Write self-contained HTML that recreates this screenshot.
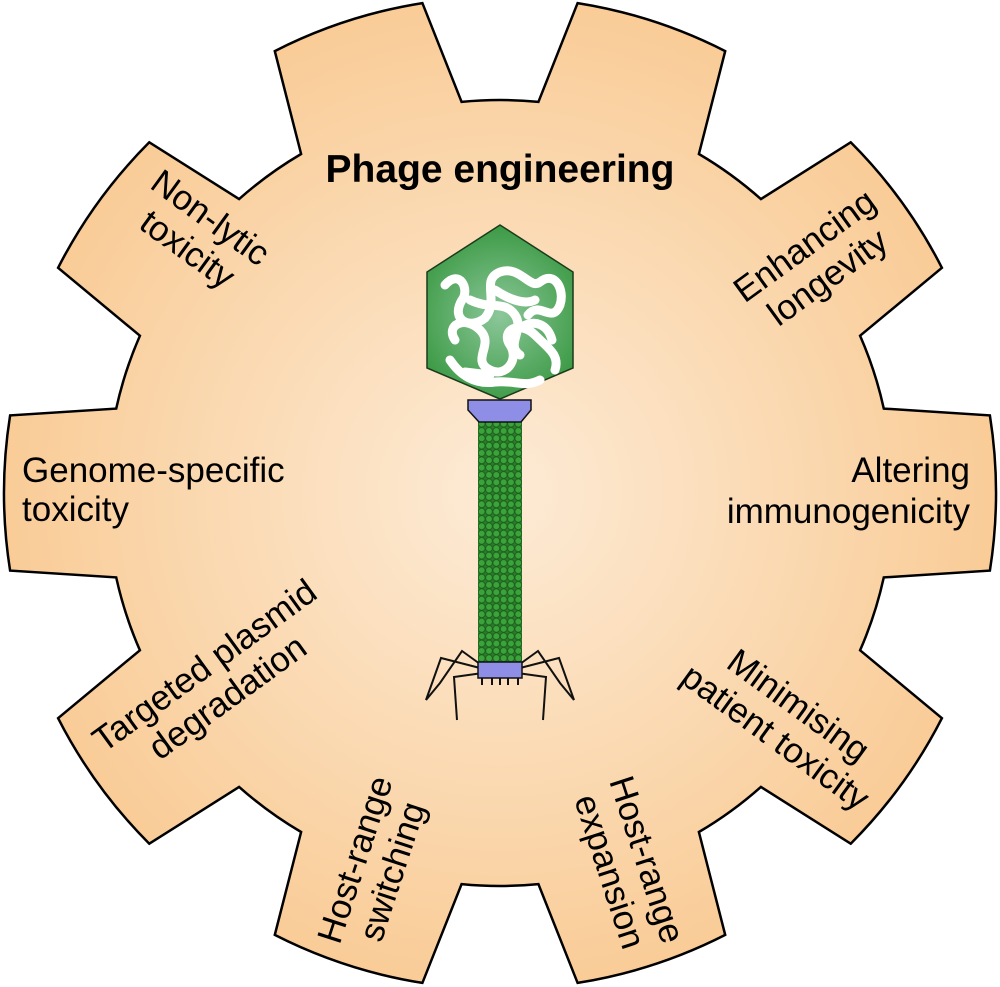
<!DOCTYPE html>
<html><head><meta charset="utf-8">
<style>
html,body{margin:0;padding:0;background:#fff;width:1000px;height:987px;overflow:hidden}
svg text{font-family:"Liberation Sans",Arial,sans-serif;font-size:35px;fill:#000}
</style></head>
<body>
<svg id="s" width="1000" height="987" viewBox="0 0 1000 987" xmlns="http://www.w3.org/2000/svg">
<defs>
<radialGradient id="g" cx="500" cy="493" r="496" gradientUnits="userSpaceOnUse">
<stop offset="0" stop-color="#fdebd6"/>
<stop offset="1" stop-color="#f9cc97"/>
</radialGradient>
<radialGradient id="gg" cx="500" cy="315" r="90" gradientUnits="userSpaceOnUse">
<stop offset="0" stop-color="#8cc79a"/>
<stop offset="1" stop-color="#3c9a45"/>
</radialGradient>
<pattern id="tail" x="478" y="420" width="7.33" height="7.33" patternUnits="userSpaceOnUse">
<rect width="7.33" height="7.33" fill="#2c7a2c"/>
<circle cx="3.66" cy="3.66" r="3.4" fill="#3aa43a" stroke="#1b5a1b" stroke-width="0.8"/>
</pattern>
</defs>
<path id="gear" fill="url(#g)" stroke="#000" stroke-width="2.5" stroke-linejoin="miter" d=""/>
<g id="labels">
<text x="500" y="182" text-anchor="middle" style="font-weight:bold;font-size:39px">Phage engineering</text>
<text x="22" y="482">Genome-specific</text>
<text x="22" y="521">toxicity</text>
<text x="970" y="482" text-anchor="end">Altering</text>
<text x="970" y="523" text-anchor="end">immunogenicity</text>
<g transform="translate(200,232) rotate(36)" text-anchor="middle"><text y="-6">Non-lytic</text><text y="33">toxicity</text></g>
<g transform="translate(815,260) rotate(-36)" text-anchor="middle"><text y="-6">Enhancing</text><text y="33">longevity</text></g>
<g transform="translate(215,680) rotate(-36)" text-anchor="middle"><text y="-6">Targeted plasmid</text><text y="33">degradation</text></g>
<g transform="translate(788,720) rotate(36)" text-anchor="middle"><text y="-6">Minimising</text><text y="33">patient toxicity</text></g>
<g transform="translate(372,865) rotate(-72)" text-anchor="middle"><text y="-6">Host-range</text><text y="33">switching</text></g>
<g transform="translate(630,865) rotate(72)" text-anchor="middle"><text y="-6">Host-range</text><text y="33">expansion</text></g>
</g>
<!-- legs -->
<g stroke="#111" stroke-width="2" fill="none">
<polyline points="480,664 462,651 440,683 426,700"/>
<polyline points="480,668 441,658 426,700"/>
<polyline points="490,672 454,677 457,720"/>
<polyline points="520,664 538,651 560,683 574,700"/>
<polyline points="520,668 559,658 574,700"/>
<polyline points="510,672 546,677 543,720"/>
<line x1="482" y1="678" x2="482" y2="685"/><line x1="492" y1="678" x2="492" y2="685"/>
<line x1="500" y1="678" x2="500" y2="685"/><line x1="508" y1="678" x2="508" y2="685"/><line x1="518" y1="678" x2="518" y2="685"/>
</g>
<!-- tail -->
<rect x="478" y="418" width="44" height="246" fill="url(#tail)"/>
<rect x="478" y="662" width="44" height="16" fill="#8e8ee6" stroke="#111" stroke-width="1.5"/>
<!-- collar -->
<path d="M468,400 H531 V410 L521,422 H479 L468,410 Z" fill="#8e8ee6" stroke="#111" stroke-width="1.5"/>
<!-- head -->
<path d="M500,225 L573,272 L573,368 L500,399 L427,368 L427,272 Z" fill="url(#gg)" stroke="#1b3b1b" stroke-width="1.5"/>
<g stroke="#fff" stroke-width="9" fill="none" stroke-linecap="round" stroke-linejoin="round">
<path d="M445,285 C460,268 470,290 462,300 C450,320 470,330 485,318 C500,300 480,280 500,272 C520,265 530,290 540,282 C555,270 565,290 560,305 C552,325 540,300 528,315"/>
<path d="M455,340 C445,325 465,315 480,330 C495,345 470,360 490,370 C505,378 520,360 510,345 C500,330 520,320 535,335 C548,348 560,355 555,370"/>
<path d="M470,300 C490,310 505,300 515,315 C525,330 505,345 520,355"/>
<path d="M450,360 C460,375 475,385 495,382 C515,380 525,388 540,380"/>
<path d="M495,290 C510,300 525,305 535,300"/>
<path d="M465,372 L490,375 M520,328 C535,318 548,325 552,340"/>
</g>
</svg>
<script>
(function(){
var cx=500,cy=493,R=496,r=393,N=10,sp=36;
var tOut=9,tRoot=12.4;
function P(a,rad){var t=a*Math.PI/180;return [(cx+rad*Math.cos(t)).toFixed(1),(cy+rad*Math.sin(t)).toFixed(1)];}
var d="";
for(var i=0;i<N;i++){
 var c=i*sp;
 var a0=c-tRoot,a1=c-tOut,a2=c+tOut,a3=c+tRoot,a4=c+sp-tRoot;
 var p0=P(a0,r),p1=P(a1,R),p2=P(a2,R),p3=P(a3,r),p4=P(a4,r);
 if(i==0)d+="M"+p0.join(",");
 d+=" L"+p1.join(",")+" A"+R+","+R+" 0 0 1 "+p2.join(",")+" L"+p3.join(",")+" A"+r+","+r+" 0 0 1 "+p4.join(",");
}
d+=" Z";
document.getElementById("gear").setAttribute("d",d);
})();
</script>
</body></html>
